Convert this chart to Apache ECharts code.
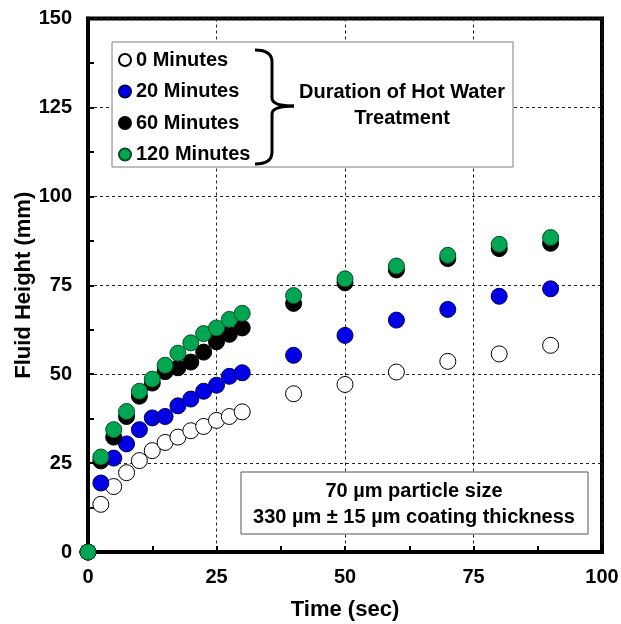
<!DOCTYPE html>
<html><head><meta charset="utf-8">
<script src="https://cdn.jsdelivr.net/npm/echarts@6/dist/echarts.min.js"></script>
<style>html,body{margin:0;padding:0;background:#fff}#c{width:621px;height:624px}</style>
</head><body><div id="c"></div>
<script>
const timeSec = [0, 2.5, 5, 7.5, 10, 12.5, 15, 17.5, 20, 22.5, 25, 27.5, 30, 40, 50, 60, 70, 80, 90];
const min0   = [0, 13.4, 18.4, 22.3, 25.7, 28.5, 30.8, 32.3, 34.1, 35.3, 37.0, 38.1, 39.4, 44.5, 47.1, 50.6, 53.6, 55.7, 58.1];
const min20  = [0, 19.4, 26.4, 30.4, 34.4, 37.7, 38.1, 41.1, 43.0, 45.2, 46.9, 49.4, 50.4, 55.3, 60.9, 65.2, 68.2, 71.9, 74.0];
const min60  = [0, 25.6, 32.3, 38.1, 43.8, 47.5, 50.7, 51.8, 53.4, 56.2, 59.1, 61.2, 63.0, 69.9, 75.7, 79.3, 82.5, 85.3, 86.8];
const min120 = [0, 26.7, 34.4, 39.5, 45.2, 48.6, 52.5, 55.9, 58.8, 61.4, 63.0, 65.4, 67.1, 72.1, 76.8, 80.4, 83.4, 86.5, 88.4];
const seriesNames = ['0 Minutes', '20 Minutes', '60 Minutes', '120 Minutes'];
const xTicks = [0, 25, 50, 75, 100];
const yTicks = [0, 25, 50, 75, 100, 125, 150];

const FONT = '"Liberation Sans", Arial, sans-serif';
const pair = arr => timeSec.map((t, i) => [t, arr[i]]);
const styles = [
  {color: '#ffffff', borderColor: '#000000', borderWidth: 1, opacity: 1},
  {color: '#0000e6', borderColor: '#00005a', borderWidth: 1, opacity: 1},
  {color: '#000000', borderColor: '#000000', borderWidth: 1, opacity: 1},
  {color: '#00a651', borderColor: '#0b4d24', borderWidth: 1, opacity: 1}
];
const datasets = [min0, min20, min60, min120];
const braceStyle = {stroke: '#000', lineWidth: 3, fill: null};

const chart = echarts.init(document.getElementById('c'), null, {renderer: 'canvas'});
chart.setOption({
  animation: false,
  backgroundColor: '#fff',
  grid: {left: 88, right: 19, top: 18.5, bottom: 72, containLabel: false, outerBoundsMode: 'none',
         show: true, borderColor: '#000', borderWidth: 4, backgroundColor: 'transparent'},
  xAxis: {
    type: 'value', min: xTicks[0], max: xTicks[xTicks.length - 1], interval: 25,
    name: 'Time (sec)', nameLocation: 'middle', nameGap: 47, nameMoveOverlap: false,
    nameTextStyle: {fontFamily: FONT, fontWeight: 'bold', fontSize: 22, color: '#000'},
    axisLine: {show: true, lineStyle: {color: '#000', width: 4}},
    axisTick: {show: true, inside: true, length: 6, lineStyle: {color: '#000', width: 2}},
    minorTick: {show: true, splitNumber: 2, length: 6, lineStyle: {color: '#000', width: 2}},
    axisLabel: {fontFamily: FONT, fontWeight: 'bold', fontSize: 20, color: '#000', margin: 15},
    splitLine: {show: true, lineStyle: {color: '#222', type: [3, 3], width: 1}}
  },
  yAxis: {
    type: 'value', min: yTicks[0], max: yTicks[yTicks.length - 1], interval: 25,
    name: 'Fluid Height (mm)', nameLocation: 'middle', nameGap: 53, nameMoveOverlap: false,
    nameTextStyle: {fontFamily: FONT, fontWeight: 'bold', fontSize: 22, color: '#000'},
    axisLine: {show: true, lineStyle: {color: '#000', width: 4}},
    axisTick: {show: true, inside: true, length: 6, lineStyle: {color: '#000', width: 2}},
    minorTick: {show: true, splitNumber: 2, length: 6, lineStyle: {color: '#000', width: 2}},
    axisLabel: {fontFamily: FONT, fontWeight: 'bold', fontSize: 20, color: '#000', margin: 16},
    splitLine: {show: true, lineStyle: {color: '#222', type: [3, 3], width: 1}}
  },
  legend: {
    orient: 'vertical', left: 118, top: 50, itemGap: 11.5, itemWidth: 12, itemHeight: 12,
    icon: 'circle', padding: 0,
    textStyle: {fontFamily: FONT, fontWeight: 'bold', fontSize: 20, color: '#000'},
    data: seriesNames, z: 6
  },
  series: datasets.map((d, i) => ({
    name: seriesNames[i], type: 'scatter', data: pair(d), symbol: 'circle', symbolSize: 16,
    clip: false, itemStyle: styles[i], z: 2 + i
  })),
  graphic: [
    {type: 'rect', z: 3, shape: {x: 112, y: 42, width: 401, height: 125}, style: {fill: '#fff', stroke: '#7f7f7f', lineWidth: 1}},
    {type: 'bezierCurve', z: 5, shape: {x1: 255, y1: 50, cpx1: 272, cpy1: 50, x2: 272, y2: 62}, style: braceStyle},
    {type: 'line', z: 5, shape: {x1: 272, y1: 62, x2: 272, y2: 98}, style: braceStyle},
    {type: 'bezierCurve', z: 5, shape: {x1: 272, y1: 98, cpx1: 272, cpy1: 106, x2: 294, y2: 106}, style: braceStyle},
    {type: 'bezierCurve', z: 5, shape: {x1: 294, y1: 106, cpx1: 272, cpy1: 106, x2: 272, y2: 114}, style: braceStyle},
    {type: 'line', z: 5, shape: {x1: 272, y1: 114, x2: 272, y2: 152}, style: braceStyle},
    {type: 'bezierCurve', z: 5, shape: {x1: 272, y1: 152, cpx1: 272, cpy1: 164, x2: 255, y2: 164}, style: braceStyle},
    {type: 'text', z: 5, style: {x: 402, y: 92, text: 'Duration of Hot Water', fontFamily: FONT, fontWeight: 'bold', fontSize: 20, fill: '#000', align: 'center', verticalAlign: 'middle'}},
    {type: 'text', z: 5, style: {x: 402, y: 118, text: 'Treatment', fontFamily: FONT, fontWeight: 'bold', fontSize: 20, fill: '#000', align: 'center', verticalAlign: 'middle'}},
    {type: 'rect', z: 3, shape: {x: 241, y: 472, width: 347, height: 62}, style: {fill: '#fff', stroke: '#555', lineWidth: 1}},
    {type: 'text', z: 5, style: {x: 414, y: 491, text: '70 µm particle size', fontFamily: FONT, fontWeight: 'bold', fontSize: 20, fill: '#000', align: 'center', verticalAlign: 'middle'}},
    {type: 'text', z: 5, style: {x: 414, y: 517, text: '330 µm ± 15 µm coating thickness', fontFamily: FONT, fontWeight: 'bold', fontSize: 20, fill: '#000', align: 'center', verticalAlign: 'middle'}}
  ]
});
</script></body></html>
